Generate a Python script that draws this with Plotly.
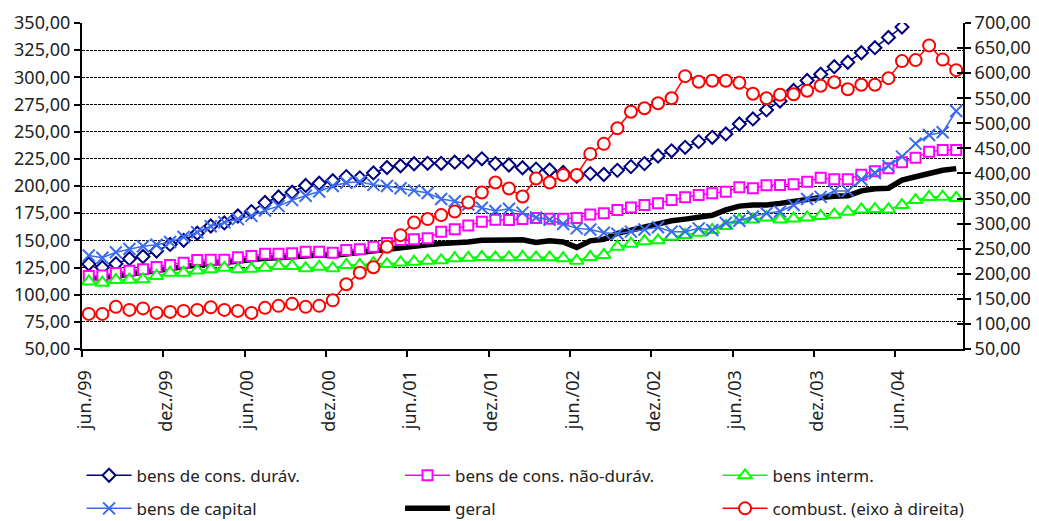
import plotly.graph_objects as go

# Monthly index series, jun./99 to out./04 (65 months)
MESES = ["jan.", "fev.", "mar.", "abr.", "mai.", "jun.",
         "jul.", "ago.", "set.", "out.", "nov.", "dez."]
meses = []
for k in range(65):
    m = (5 + k) % 12
    a = (1999 + (5 + k) // 12) % 100
    meses.append(f"{MESES[m]}/{a:02d}")

bens_cons_durav = [
    128.2, 125.0, 128.5, 133.1, 135.1, 140.2, 146.2, 150.0, 156.5, 163.2,
    166.0, 172.4, 176.5, 184.8, 189.9, 194.3, 200.5, 202.5, 204.9, 208.6,
    207.5, 212.0, 217.0, 218.6, 220.5, 220.9, 220.9, 221.9, 222.4, 225.0,
    220.6, 219.3, 216.8, 215.5, 214.7, 212.4, 209.2, 211.4, 210.6, 214.4,
    217.8, 220.6, 227.6, 232.4, 235.6, 240.8, 244.8, 247.9, 257.1, 261.7,
    270.0, 278.2, 287.9, 297.1, 302.9, 309.8, 313.9, 322.6, 327.3, 336.7,
    346.3, 366.0, 374.0, 382.0, 390.0]

bens_cons_nao_durav = [
    117.2, 117.6, 119.9, 122.0, 123.3, 125.5, 127.3, 129.4, 131.9, 132.2,
    132.2, 134.4, 135.6, 137.7, 137.7, 138.1, 139.6, 139.6, 138.6, 141.1,
    141.8, 144.1, 147.6, 150.3, 151.0, 151.9, 157.9, 160.2, 163.7, 167.1,
    169.0, 168.7, 169.6, 170.6, 169.8, 169.8, 170.6, 173.8, 174.9, 177.9,
    180.2, 182.5, 184.1, 187.1, 189.6, 191.7, 193.3, 194.8, 198.8, 197.9,
    200.6, 200.9, 201.7, 203.9, 207.5, 206.3, 206.3, 210.4, 213.5, 216.3,
    221.8, 226.0, 231.6, 233.1, 233.1]

bens_interm = [
    112.2, 111.0, 113.5, 113.8, 114.1, 117.2, 120.2, 120.2, 122.2, 123.3,
    124.7, 123.4, 123.8, 124.8, 126.4, 126.4, 124.3, 125.7, 124.3, 127.3,
    127.3, 128.9, 128.2, 129.6, 130.3, 131.2, 131.6, 133.5, 133.9, 134.7,
    134.4, 134.4, 134.7, 134.4, 134.4, 133.5, 131.3, 134.7, 136.5, 144.1,
    146.9, 149.2, 150.0, 153.3, 154.9, 157.0, 159.5, 163.2, 168.7, 169.2,
    171.0, 169.2, 170.1, 171.0, 172.4, 173.6, 176.3, 178.4, 178.8, 178.4,
    182.5, 187.1, 189.9, 190.2, 189.0]

bens_capital = [
    136.0, 134.0, 139.0, 142.0, 144.5, 146.0, 148.5, 153.0, 157.5, 163.0,
    166.5, 169.5, 172.5, 177.5, 181.5, 187.0, 191.0, 195.0, 200.0, 203.0,
    204.0, 201.0, 200.0, 198.0, 196.0, 193.5, 188.0, 186.0, 183.0, 180.0,
    177.0, 179.0, 175.5, 171.0, 169.0, 165.0, 161.0, 160.0, 157.0, 156.0,
    158.0, 160.0, 162.0, 158.0, 158.0, 161.0, 159.5, 166.0, 168.0, 172.0,
    175.0, 176.5, 182.5, 188.0, 190.0, 195.5, 195.5, 206.0, 212.0, 218.5,
    227.0, 239.0, 247.0, 249.5, 269.0]

geral = [
    115.0, 115.5, 117.0, 119.0, 120.0, 122.0, 124.0, 126.0, 128.0, 129.0,
    129.5, 131.0, 132.0, 133.5, 134.0, 135.0, 136.0, 136.5, 136.0, 137.5,
    139.0, 140.5, 142.5, 143.5, 144.5, 146.0, 147.0, 147.5, 148.5, 150.0,
    150.5, 151.0, 150.5, 148.0, 149.5, 148.5, 143.5, 149.5, 151.0, 156.5,
    159.5, 162.0, 165.0, 168.0, 169.5, 171.5, 173.0, 178.0, 181.5, 182.5,
    182.5, 184.0, 186.0, 188.0, 189.5, 190.5, 191.0, 195.5, 197.5, 198.0,
    205.5, 208.5, 212.0, 214.5, 216.0]

combust = [
    120, 120, 134, 128, 131, 122, 124, 126, 128, 133,
    128, 126, 122, 132, 136, 140, 134, 136, 147, 179,
    202, 213, 254, 277, 302, 309, 317, 324, 342, 362,
    382, 370, 354, 390, 382, 397, 397, 439, 459, 490,
    523, 530, 540, 550, 594, 583, 585, 585, 581, 559,
    550, 557, 558, 565, 575, 582, 568, 577, 577, 590,
    624, 626, 655, 627, 606]

x = list(range(len(meses)))
tick_pos = [i - 0.5 for i in range(0, len(meses), 6)]
tick_txt = [meses[i] for i in range(0, len(meses), 6)]

FONT = "Noto Sans"
TXT = "#222222"

fig = go.Figure()

def marker_trace(name, y, color, symbol, size, rank, legend, yaxis="y"):
    return go.Scatter(
        x=x, y=y, name=name, mode="lines+markers", yaxis=yaxis,
        line=dict(color=color, width=1.5),
        marker=dict(symbol=symbol, size=size, color="white",
                    line=dict(color=color, width=2)),
        legendrank=rank, legend=legend, legendgroup=name)

# the thick overall index sits underneath the other series
fig.add_trace(go.Scatter(
    x=x, y=geral, name="geral", mode="lines",
    line=dict(color="black", width=5.5),
    legendrank=2, legend="legend2", legendgroup="geral"))
fig.add_trace(marker_trace("bens de cons. duráv.", bens_cons_durav,
                           "#000080", "diamond", 10, 1, "legend"))
fig.add_trace(marker_trace("bens de cons. não-duráv.", bens_cons_nao_durav,
                           "#FF00FF", "square", 10, 1, "legend2"))
fig.add_trace(marker_trace("bens interm.", bens_interm,
                           "#00FF00", "triangle-up", 12, 1, "legend3"))
fig.add_trace(go.Scatter(
    x=x, y=bens_capital, name="bens de capital", mode="lines+markers",
    line=dict(color="#3A6BF0", width=1.5),
    marker=dict(symbol="x-thin", size=12, color="#3A6BF0",
                line=dict(color="#3A6BF0", width=2)),
    legendrank=2, legend="legend", legendgroup="bens de capital"))
fig.add_trace(marker_trace("combust. (eixo à direita)", combust,
                           "#FF0000", "circle", 12, 2, "legend3", yaxis="y2"))

axis_font = dict(family=FONT, size=18, color=TXT)
leg_common = dict(
    orientation="v", xanchor="left", yanchor="top", y=-0.3335,
    font=dict(family=FONT, size=17, color=TXT),
    bgcolor="rgba(0,0,0,0)", traceorder="grouped", tracegroupgap=8,
    itemwidth=45)

fig.update_layout(
    width=1039, height=521,
    margin=dict(l=82, r=76, t=23, b=172, autoexpand=False),
    paper_bgcolor="white", plot_bgcolor="white",
    separators=",.",
    showlegend=True,
    xaxis=dict(
        range=[-0.5, len(meses) - 0.5], tickmode="array",
        tickvals=tick_pos, ticktext=tick_txt, tickangle=-90,
        ticks="outside", ticklen=6, tickwidth=1.5, tickcolor="black",
        ticklabelstandoff=6, ticklabelshift=3, automargin=False,
        showline=True, linecolor="black", linewidth=2,
        showgrid=False, zeroline=False, tickfont=axis_font),
    yaxis=dict(
        range=[50, 350], dtick=25, tick0=50, tickformat=".2f",
        ticks="outside", ticklen=6, tickwidth=1.5, tickcolor="black",
        showline=True, linecolor="black", linewidth=2, automargin=False,
        showgrid=True, gridcolor="black", gridwidth=1.2, griddash="3px,1px",
        zeroline=False, tickfont=axis_font),
    yaxis2=dict(
        range=[50, 700], dtick=50, tick0=50, tickformat=".2f",
        overlaying="y", side="right", anchor="x", automargin=False,
        ticks="outside", ticklen=6, tickwidth=1.5, tickcolor="black",
        showline=True, linecolor="black", linewidth=2,
        showgrid=False, zeroline=False, tickfont=axis_font),
    yaxis3=dict(
        range=[50, 700], dtick=50, tick0=50,
        overlaying="y", side="right", anchor="x", automargin=False,
        ticks="inside", ticklen=6, tickwidth=1.5, tickcolor="black",
        showticklabels=False, showline=False,
        showgrid=False, zeroline=False),
    legend=dict(x=-0.0005, **leg_common),
    legend2=dict(x=0.361, **leg_common),
    legend3=dict(x=0.7214, **leg_common),
)

# invisible trace so the inside-tick axis on the right is drawn
fig.add_trace(go.Scatter(x=[None], y=[None], yaxis="y3",
                         showlegend=False, hoverinfo="skip"))

fig.write_html("out.html")
